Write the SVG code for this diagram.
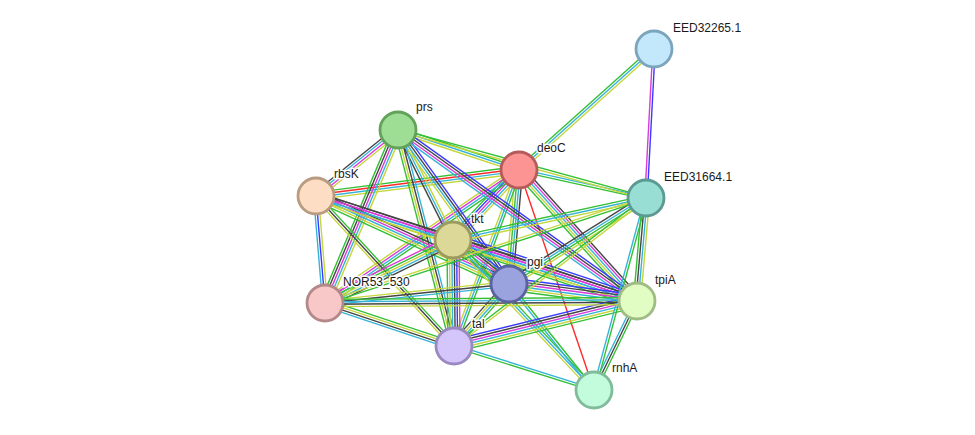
<svg xmlns="http://www.w3.org/2000/svg" width="975" height="435" viewBox="0 0 975 435">
<style>
line{stroke-width:1.4;fill:none}
.Y{stroke:#c5d63c}.K{stroke:#454545}.M{stroke:#d93ad9}.C{stroke:#36b4d8}.G{stroke:#34c034}.R{stroke:#ff2a2a}.B{stroke:#3a3aff}
.node circle{stroke-width:2.8}
.node text{font-family:"Liberation Sans",Arial,sans-serif;font-size:12px;fill:#1a1a1a;stroke:#fff;stroke-width:3;stroke-linejoin:round;paint-order:stroke}
</style>
<rect width="975" height="435" fill="#fff"/>
<g id="edges">
<g id="e-E2-D"><line class="Y" x1="654" y1="49" x2="519" y2="170" transform="translate(1.6,1.79)"/><line class="C" x1="654" y1="49" x2="519" y2="170"/><line class="G" x1="654" y1="49" x2="519" y2="170" transform="translate(-1.6,-1.79)"/></g>
<g id="e-E2-E1"><line class="M" x1="654" y1="49" x2="646" y2="198" transform="translate(-1.2,-0.06)"/><line class="B" x1="654" y1="49" x2="646" y2="198" transform="translate(1.2,0.06)"/></g>
<g id="e-D-E1"><line class="C" x1="519" y1="170" x2="646" y2="198" transform="translate(0.26,-1.17)"/><line class="G" x1="519" y1="170" x2="646" y2="198" transform="translate(-0.26,1.17)"/></g>
<g id="e-D-P"><line class="G" x1="519" y1="170" x2="398" y2="130" transform="translate(0.75,-2.28)"/><line class="C" x1="519" y1="170" x2="398" y2="130"/><line class="Y" x1="519" y1="170" x2="398" y2="130" transform="translate(-0.75,2.28)"/></g>
<g id="e-D-R"><line class="G" x1="519" y1="170" x2="316" y2="196" transform="translate(-0.45,-3.57)"/><line class="R" x1="519" y1="170" x2="316" y2="196" transform="translate(-0.15,-1.19)"/><line class="C" x1="519" y1="170" x2="316" y2="196" transform="translate(0.15,1.19)"/><line class="Y" x1="519" y1="170" x2="316" y2="196" transform="translate(0.45,3.57)"/></g>
<g id="e-D-T"><line class="Y" x1="519" y1="170" x2="453" y2="240" transform="translate(3.5,3.3)"/><line class="C" x1="519" y1="170" x2="453" y2="240" transform="translate(1.75,1.65)"/><line class="M" x1="519" y1="170" x2="453" y2="240"/><line class="B" x1="519" y1="170" x2="453" y2="240" transform="translate(-1.75,-1.65)"/><line class="G" x1="519" y1="170" x2="453" y2="240" transform="translate(-3.5,-3.3)"/></g>
<g id="e-D-G"><line class="K" x1="519" y1="170" x2="509" y2="284" transform="translate(3.59,0.32)"/><line class="C" x1="519" y1="170" x2="509" y2="284" transform="translate(1.2,0.1)"/><line class="G" x1="519" y1="170" x2="509" y2="284" transform="translate(-1.2,-0.1)"/><line class="Y" x1="519" y1="170" x2="509" y2="284" transform="translate(-3.59,-0.32)"/></g>
<g id="e-D-A"><line class="K" x1="519" y1="170" x2="637" y2="301" transform="translate(3.56,-3.22)"/><line class="M" x1="519" y1="170" x2="637" y2="301" transform="translate(1.78,-1.61)"/><line class="C" x1="519" y1="170" x2="637" y2="301"/><line class="Y" x1="519" y1="170" x2="637" y2="301" transform="translate(-1.78,1.61)"/><line class="G" x1="519" y1="170" x2="637" y2="301" transform="translate(-3.56,3.22)"/></g>
<g id="e-D-H"><line class="R" x1="519" y1="170" x2="594" y2="390"/></g>
<g id="e-D-N"><line class="G" x1="519" y1="170" x2="325" y2="303" transform="translate(2.04,2.97)"/><line class="C" x1="519" y1="170" x2="325" y2="303" transform="translate(0.68,0.99)"/><line class="M" x1="519" y1="170" x2="325" y2="303" transform="translate(-0.68,-0.99)"/><line class="Y" x1="519" y1="170" x2="325" y2="303" transform="translate(-2.04,-2.97)"/></g>
<g id="e-D-L"><line class="G" x1="519" y1="170" x2="454" y2="346" transform="translate(2.25,0.83)"/><line class="C" x1="519" y1="170" x2="454" y2="346"/><line class="Y" x1="519" y1="170" x2="454" y2="346" transform="translate(-2.25,-0.83)"/></g>
<g id="e-P-R"><line class="Y" x1="398" y1="130" x2="316" y2="196" transform="translate(2.25,2.81)"/><line class="M" x1="398" y1="130" x2="316" y2="196" transform="translate(0.75,0.94)"/><line class="C" x1="398" y1="130" x2="316" y2="196" transform="translate(-0.75,-0.94)"/><line class="K" x1="398" y1="130" x2="316" y2="196" transform="translate(-2.25,-2.81)"/></g>
<g id="e-P-N"><line class="Y" x1="398" y1="130" x2="325" y2="303" transform="translate(4.42,1.86)"/><line class="C" x1="398" y1="130" x2="325" y2="303" transform="translate(2.21,0.93)"/><line class="M" x1="398" y1="130" x2="325" y2="303"/><line class="K" x1="398" y1="130" x2="325" y2="303" transform="translate(-2.21,-0.93)"/><line class="G" x1="398" y1="130" x2="325" y2="303" transform="translate(-4.42,-1.86)"/></g>
<g id="e-P-T"><line class="Y" x1="398" y1="130" x2="453" y2="240" transform="translate(2.15,-1.07)"/><line class="C" x1="398" y1="130" x2="453" y2="240"/><line class="K" x1="398" y1="130" x2="453" y2="240" transform="translate(-2.15,1.07)"/></g>
<g id="e-P-G"><line class="B" x1="398" y1="130" x2="509" y2="284" transform="translate(2.93,-2.1)"/><line class="K" x1="398" y1="130" x2="509" y2="284" transform="translate(0.98,-0.7)"/><line class="C" x1="398" y1="130" x2="509" y2="284" transform="translate(-0.98,0.7)"/><line class="Y" x1="398" y1="130" x2="509" y2="284" transform="translate(-2.93,2.1)"/></g>
<g id="e-P-L"><line class="C" x1="398" y1="130" x2="454" y2="346" transform="translate(3.48,-0.9)"/><line class="K" x1="398" y1="130" x2="454" y2="346" transform="translate(1.16,-0.3)"/><line class="Y" x1="398" y1="130" x2="454" y2="346" transform="translate(-1.16,0.3)"/><line class="G" x1="398" y1="130" x2="454" y2="346" transform="translate(-3.48,0.9)"/></g>
<g id="e-P-A"><line class="B" x1="398" y1="130" x2="637" y2="301" transform="translate(2.1,-2.93)"/><line class="K" x1="398" y1="130" x2="637" y2="301" transform="translate(0.7,-0.98)"/><line class="M" x1="398" y1="130" x2="637" y2="301" transform="translate(-0.7,0.98)"/><line class="C" x1="398" y1="130" x2="637" y2="301" transform="translate(-2.1,2.93)"/></g>
<g id="e-P-E1"><line class="G" x1="398" y1="130" x2="646" y2="198" transform="translate(0.32,-1.16)"/><line class="Y" x1="398" y1="130" x2="646" y2="198" transform="translate(-0.32,1.16)"/></g>
<g id="e-R-N"><line class="Y" x1="316" y1="196" x2="325" y2="303" transform="translate(2.39,-0.2)"/><line class="B" x1="316" y1="196" x2="325" y2="303"/><line class="C" x1="316" y1="196" x2="325" y2="303" transform="translate(-2.39,0.2)"/></g>
<g id="e-R-T"><line class="K" x1="316" y1="196" x2="453" y2="240" transform="translate(1.1,-3.44)"/><line class="M" x1="316" y1="196" x2="453" y2="240" transform="translate(0.37,-1.15)"/><line class="C" x1="316" y1="196" x2="453" y2="240" transform="translate(-0.37,1.15)"/><line class="Y" x1="316" y1="196" x2="453" y2="240" transform="translate(-1.1,3.44)"/></g>
<g id="e-R-G"><line class="K" x1="316" y1="196" x2="509" y2="284" transform="translate(2,-4.36)"/><line class="M" x1="316" y1="196" x2="509" y2="284" transform="translate(1,-2.18)"/><line class="C" x1="316" y1="196" x2="509" y2="284"/><line class="Y" x1="316" y1="196" x2="509" y2="284" transform="translate(-1,2.18)"/><line class="G" x1="316" y1="196" x2="509" y2="284" transform="translate(-2,4.36)"/></g>
<g id="e-R-L"><line class="G" x1="316" y1="196" x2="454" y2="346" transform="translate(1.77,-1.62)"/><line class="K" x1="316" y1="196" x2="454" y2="346"/><line class="Y" x1="316" y1="196" x2="454" y2="346" transform="translate(-1.77,1.62)"/></g>
<g id="e-R-A"><line class="K" x1="316" y1="196" x2="637" y2="301" transform="translate(1.13,-3.42)"/><line class="M" x1="316" y1="196" x2="637" y2="301" transform="translate(0.38,-1.14)"/><line class="C" x1="316" y1="196" x2="637" y2="301" transform="translate(-0.38,1.14)"/><line class="Y" x1="316" y1="196" x2="637" y2="301" transform="translate(-1.13,3.42)"/></g>
<g id="e-T-G"><line class="B" x1="453" y1="240" x2="509" y2="284" transform="translate(3.7,-4.73)"/><line class="K" x1="453" y1="240" x2="509" y2="284" transform="translate(2.22,-2.84)"/><line class="M" x1="453" y1="240" x2="509" y2="284" transform="translate(0.74,-0.95)"/><line class="C" x1="453" y1="240" x2="509" y2="284" transform="translate(-0.74,0.95)"/><line class="Y" x1="453" y1="240" x2="509" y2="284" transform="translate(-2.22,2.84)"/><line class="G" x1="453" y1="240" x2="509" y2="284" transform="translate(-3.7,4.73)"/></g>
<g id="e-T-L"><line class="M" x1="453" y1="240" x2="454" y2="346" transform="translate(6,0)"/><line class="B" x1="453" y1="240" x2="454" y2="346" transform="translate(3.6,0)"/><line class="K" x1="453" y1="240" x2="454" y2="346" transform="translate(1.2,0)"/><line class="C" x1="453" y1="240" x2="454" y2="346" transform="translate(-1.2,0)"/><line class="Y" x1="453" y1="240" x2="454" y2="346" transform="translate(-3.6,0)"/><line class="G" x1="453" y1="240" x2="454" y2="346" transform="translate(-6,0)"/></g>
<g id="e-T-A"><line class="B" x1="453" y1="240" x2="637" y2="301" transform="translate(1.9,-5.7)"/><line class="K" x1="453" y1="240" x2="637" y2="301" transform="translate(1.14,-3.42)"/><line class="M" x1="453" y1="240" x2="637" y2="301" transform="translate(0.38,-1.14)"/><line class="C" x1="453" y1="240" x2="637" y2="301" transform="translate(-0.38,1.14)"/><line class="Y" x1="453" y1="240" x2="637" y2="301" transform="translate(-1.14,3.42)"/><line class="G" x1="453" y1="240" x2="637" y2="301" transform="translate(-1.9,5.7)"/></g>
<g id="e-T-N"><line class="K" x1="453" y1="240" x2="325" y2="303" transform="translate(2.12,4.3)"/><line class="C" x1="453" y1="240" x2="325" y2="303" transform="translate(1.06,2.15)"/><line class="Y" x1="453" y1="240" x2="325" y2="303"/><line class="G" x1="453" y1="240" x2="325" y2="303" transform="translate(-1.06,-2.15)"/><line class="M" x1="453" y1="240" x2="325" y2="303" transform="translate(-2.12,-4.3)"/></g>
<g id="e-T-E1"><line class="G" x1="453" y1="240" x2="646" y2="198" transform="translate(-0.51,-2.35)"/><line class="C" x1="453" y1="240" x2="646" y2="198"/><line class="Y" x1="453" y1="240" x2="646" y2="198" transform="translate(0.51,2.35)"/></g>
<g id="e-T-H"><line class="G" x1="453" y1="240" x2="594" y2="390" transform="translate(1.75,-1.64)"/><line class="C" x1="453" y1="240" x2="594" y2="390"/><line class="Y" x1="453" y1="240" x2="594" y2="390" transform="translate(-1.75,1.64)"/></g>
<g id="e-G-L"><line class="G" x1="509" y1="284" x2="454" y2="346" transform="translate(2.7,2.39)"/><line class="C" x1="509" y1="284" x2="454" y2="346" transform="translate(0.9,0.8)"/><line class="Y" x1="509" y1="284" x2="454" y2="346" transform="translate(-0.9,-0.8)"/><line class="K" x1="509" y1="284" x2="454" y2="346" transform="translate(-2.7,-2.39)"/></g>
<g id="e-G-A"><line class="B" x1="509" y1="284" x2="637" y2="301" transform="translate(0.8,-5.95)"/><line class="K" x1="509" y1="284" x2="637" y2="301" transform="translate(0.48,-3.57)"/><line class="M" x1="509" y1="284" x2="637" y2="301" transform="translate(0.16,-1.19)"/><line class="C" x1="509" y1="284" x2="637" y2="301" transform="translate(-0.16,1.19)"/><line class="Y" x1="509" y1="284" x2="637" y2="301" transform="translate(-0.48,3.57)"/><line class="G" x1="509" y1="284" x2="637" y2="301" transform="translate(-0.8,5.95)"/></g>
<g id="e-G-N"><line class="C" x1="509" y1="284" x2="325" y2="303" transform="translate(0.25,2.39)"/><line class="K" x1="509" y1="284" x2="325" y2="303"/><line class="Y" x1="509" y1="284" x2="325" y2="303" transform="translate(-0.25,-2.39)"/></g>
<g id="e-G-E1"><line class="K" x1="509" y1="284" x2="646" y2="198" transform="translate(-1.92,-3.05)"/><line class="C" x1="509" y1="284" x2="646" y2="198" transform="translate(-0.64,-1.02)"/><line class="G" x1="509" y1="284" x2="646" y2="198" transform="translate(0.64,1.02)"/><line class="Y" x1="509" y1="284" x2="646" y2="198" transform="translate(1.92,3.05)"/></g>
<g id="e-G-H"><line class="G" x1="509" y1="284" x2="594" y2="390" transform="translate(0.94,-0.75)"/><line class="C" x1="509" y1="284" x2="594" y2="390" transform="translate(-0.94,0.75)"/></g>
<g id="e-L-A"><line class="B" x1="454" y1="346" x2="637" y2="301" transform="translate(-1.43,-5.83)"/><line class="K" x1="454" y1="346" x2="637" y2="301" transform="translate(-0.86,-3.5)"/><line class="M" x1="454" y1="346" x2="637" y2="301" transform="translate(-0.29,-1.17)"/><line class="C" x1="454" y1="346" x2="637" y2="301" transform="translate(0.29,1.17)"/><line class="Y" x1="454" y1="346" x2="637" y2="301" transform="translate(0.86,3.5)"/><line class="G" x1="454" y1="346" x2="637" y2="301" transform="translate(1.43,5.83)"/></g>
<g id="e-L-N"><line class="C" x1="454" y1="346" x2="325" y2="303" transform="translate(-1.14,3.42)"/><line class="K" x1="454" y1="346" x2="325" y2="303" transform="translate(-0.38,1.14)"/><line class="Y" x1="454" y1="346" x2="325" y2="303" transform="translate(0.38,-1.14)"/><line class="G" x1="454" y1="346" x2="325" y2="303" transform="translate(1.14,-3.42)"/></g>
<g id="e-L-H"><line class="C" x1="454" y1="346" x2="594" y2="390" transform="translate(0.36,-1.15)"/><line class="G" x1="454" y1="346" x2="594" y2="390" transform="translate(-0.36,1.15)"/></g>
<g id="e-A-E1"><line class="G" x1="637" y1="301" x2="646" y2="198" transform="translate(-3.59,-0.32)"/><line class="K" x1="637" y1="301" x2="646" y2="198" transform="translate(-1.2,-0.1)"/><line class="C" x1="637" y1="301" x2="646" y2="198" transform="translate(1.2,0.1)"/><line class="Y" x1="637" y1="301" x2="646" y2="198" transform="translate(3.59,0.32)"/></g>
<g id="e-A-H"><line class="G" x1="637" y1="301" x2="594" y2="390" transform="translate(2.16,1.04)"/><line class="K" x1="637" y1="301" x2="594" y2="390"/><line class="C" x1="637" y1="301" x2="594" y2="390" transform="translate(-2.16,-1.04)"/></g>
<g id="e-E1-H"><line class="G" x1="646" y1="198" x2="594" y2="390" transform="translate(1.16,0.32)"/><line class="C" x1="646" y1="198" x2="594" y2="390" transform="translate(-1.16,-0.32)"/></g>
<g id="e-N-A"><line class="G" x1="325" y1="303" x2="637" y2="301" transform="translate(0,-3.6)"/><line class="C" x1="325" y1="303" x2="637" y2="301" transform="translate(0,-1.2)"/><line class="K" x1="325" y1="303" x2="637" y2="301" transform="translate(0,1.2)"/><line class="Y" x1="325" y1="303" x2="637" y2="301" transform="translate(0,3.6)"/></g>
<g id="e-N-E1"><line class="Y" x1="325" y1="303" x2="646" y2="198" transform="translate(-0.38,-1.14)"/><line class="G" x1="325" y1="303" x2="646" y2="198" transform="translate(0.38,1.14)"/></g>
<g id="e-L-E1"><line class="G" x1="454" y1="346" x2="646" y2="198" transform="translate(-0.74,-0.95)"/><line class="Y" x1="454" y1="346" x2="646" y2="198" transform="translate(0.74,0.95)"/></g>
</g>
<g id="n-EED32265.1" class="node"><circle cx="654" cy="49" r="18" fill="#c3e7fb" stroke="#7ba4bd"/><text x="673" y="32">EED32265.1</text></g>
<g id="n-EED31664.1" class="node"><circle cx="646" cy="198" r="18" fill="#98ded5" stroke="#5b9a93"/><text x="664" y="181">EED31664.1</text></g>
<g id="n-prs" class="node"><circle cx="398" cy="130" r="18" fill="#9ede94" stroke="#63a25a"/><text x="416" y="111">prs</text></g>
<g id="n-deoC" class="node"><circle cx="519" cy="170" r="18" fill="#fd9494" stroke="#b65b5b"/><text x="537" y="152">deoC</text></g>
<g id="n-rbsK" class="node"><circle cx="316" cy="196" r="18" fill="#fddec4" stroke="#b99b80"/><text x="334" y="178">rbsK</text></g>
<g id="n-tkt" class="node"><circle cx="453" cy="240" r="18" fill="#dcd898" stroke="#9d9a5f"/><text x="471" y="223">tkt</text></g>
<g id="n-pgi" class="node"><circle cx="509" cy="284" r="18" fill="#9ba3de" stroke="#5b62a0"/><text x="527" y="266">pgi</text></g>
<g id="n-NOR53_530" class="node"><circle cx="325" cy="303" r="18" fill="#f8c8c9" stroke="#b48888"/><text x="343" y="286">NOR53_530</text></g>
<g id="n-tpiA" class="node"><circle cx="637" cy="301" r="18" fill="#e1fdc4" stroke="#a0bc85"/><text x="655" y="284">tpiA</text></g>
<g id="n-tal" class="node"><circle cx="454" cy="346" r="18" fill="#d4c5fb" stroke="#9a89c1"/><text x="472" y="328">tal</text></g>
<g id="n-rnhA" class="node"><circle cx="594" cy="390" r="18" fill="#c2fcdc" stroke="#80bc9b"/><text x="612" y="372">rnhA</text></g>
</svg>
